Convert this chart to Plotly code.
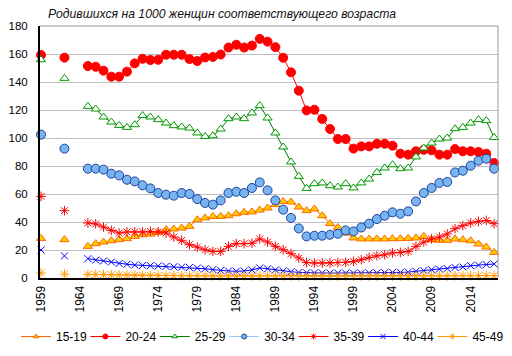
import plotly.graph_objects as go

years = [1959, 1962] + list(range(1965, 2018))

a15_19 = [28.3, 27.4,
          22.6, 24.5, 25.7, 26.6, 27.4, 28.1, 29.7, 30.9, 31.4, 32.6,
          34.5, 35.0, 35.7, 36.9, 41.6, 42.9, 44.0, 44.0, 44.5, 45.9,
          46.9, 47.2, 48.5, 50.0, 52.4, 54.7, 54.3, 50.7, 48.1, 49.3,
          44.5, 38.8, 36.1, 32.1, 28.6, 27.9, 27.9, 27.9, 27.9, 28.1,
          28.1, 28.3, 28.6, 29.7, 27.4, 26.9, 26.9, 27.9, 27.4, 26.6,
          24.3, 22.1, 18.3]
a20_24 = [159.3, 157.4,
          151.4, 150.9, 148.1, 143.8, 143.8, 147.4, 153.3, 156.6, 155.7, 155.9,
          159.5, 159.5, 159.5, 156.4, 155.0, 157.5, 157.9, 159.6, 164.6, 166.6,
          164.6, 166.0, 170.8, 168.8, 164.9, 157.3, 146.9, 133.8, 119.7, 120.2,
          113.6, 106.4, 99.3, 99.3, 92.4, 94.0, 94.0, 95.9, 95.9, 94.5,
          88.8, 88.1, 90.5, 91.6, 91.2, 88.1, 88.1, 92.1, 90.5, 90.5,
          90.0, 88.8, 82.1]
a25_29 = [155.9, 142.6,
          122.6, 120.7, 115.0, 111.4, 109.0, 107.6, 109.5, 116.1, 115.0, 113.1,
          110.7, 108.8, 107.9, 107.1, 103.6, 101.1, 101.6, 106.4, 113.8, 115.0,
          113.8, 117.9, 123.1, 114.3, 103.6, 93.6, 82.9, 72.6, 64.0, 67.4,
          67.9, 65.9, 65.0, 67.4, 64.3, 67.9, 70.7, 75.4, 78.6, 80.9,
          78.1, 78.6, 86.5, 92.9, 96.4, 99.3, 100.0, 106.6, 107.6, 110.7,
          113.1, 112.4, 100.4]
a30_34 = [102.4, 92.4,
          78.1, 78.1, 77.4, 74.5, 73.3, 70.2, 69.0, 66.2, 64.0, 60.7,
          59.5, 58.8, 60.7, 60.0, 56.4, 53.6, 52.4, 55.4, 60.7, 61.6,
          60.7, 64.3, 68.3, 62.6, 55.4, 48.8, 42.9, 35.4, 29.7, 30.2,
          30.2, 30.9, 31.6, 34.0, 33.3, 36.1, 38.8, 42.1, 44.5, 46.9,
          45.9, 47.6, 54.7, 60.7, 64.3, 67.9, 68.6, 75.4, 76.6, 80.2,
          83.8, 85.2, 78.1]
a35_39 = [58.3, 48.1,
          39.3, 38.6, 36.4, 34.0, 32.1, 32.9, 32.9, 32.9, 33.3, 32.9,
          32.1, 29.3, 26.9, 23.8, 22.1, 20.2, 19.0, 19.0, 22.6, 24.5,
          24.5, 24.8, 27.9, 25.7, 22.6, 20.2, 17.4, 14.3, 11.1, 10.7,
          10.7, 10.7, 11.1, 11.2, 11.9, 13.1, 14.7, 15.9, 16.6, 17.9,
          18.3, 19.0, 22.6, 25.7, 27.9, 29.3, 31.4, 35.2, 37.4, 39.3,
          40.4, 41.1, 38.8]
a40_44 = [20.0, 15.8,
          13.8, 12.8, 12.2, 11.4, 10.4, 9.8, 9.3, 9.0, 8.8, 8.6,
          8.3, 8.0, 7.8, 7.5, 7.1, 6.6, 6.0, 5.4, 5.0, 4.8,
          5.0, 5.8, 7.2, 6.6, 5.8, 5.0, 4.5, 4.0, 3.7, 3.6,
          3.6, 3.5, 3.5, 3.5, 3.5, 3.5, 3.6, 3.7, 3.8, 4.0,
          4.0, 4.2, 4.8, 5.3, 5.9, 6.4, 6.7, 7.5, 7.9, 8.8,
          9.2, 9.6, 10.0]
a45_49 = [3.6, 2.8,
          2.6, 2.5, 2.4, 2.3, 2.2, 2.1, 2.0, 1.9, 1.8, 1.8,
          1.7, 1.7, 1.6, 1.6, 1.6, 1.5, 1.5, 1.5, 1.5, 1.5,
          1.5, 1.5, 1.5, 1.5, 1.5, 1.5, 1.5, 1.4, 1.4, 1.4,
          1.4, 1.4, 1.4, 1.4, 1.4, 1.4, 1.4, 1.4, 1.4, 1.4,
          1.4, 1.4, 1.5, 1.5, 1.5, 1.5, 1.5, 1.6, 1.6, 1.6,
          1.7, 1.7, 1.7]

series_names = ["15-19", "20-24", "25-29", "30-34", "35-39", "40-44", "45-49"]
tick_years = [1959, 1964, 1969, 1974, 1979, 1984, 1989, 1994, 1999, 2004, 2009, 2014]
title_text = "Родившихся на 1000 женщин соответствующего возраста"

styles = {
    "15-19": dict(line="#FF6600", symbol="triangle-up", size=8, fill="#FFCC00", edge="#FF6600", lw=1),
    "20-24": dict(line="#FF0000", symbol="circle", size=9, fill="#FF0000", edge="#FF0000", lw=1),
    "25-29": dict(line="#008000", symbol="triangle-up", size=8, fill="#FFFFFF", edge="#009900", lw=1),
    "30-34": dict(line="#99CCFF", symbol="circle", size=9, fill="#77B5F0", edge="#1F3F9F", lw=1),
    "35-39": dict(line="#FF0000", symbol="asterisk-open", size=8, fill="#FF0000", edge="#FF0000", lw=1),
    "40-44": dict(line="#0000FF", symbol="x-thin-open", size=7, fill="#0000FF", edge="#0000FF", lw=1),
    "45-49": dict(line="#FF9900", symbol="asterisk-open", size=8, fill="#FF9900", edge="#FF9900", lw=1),
}


def with_gaps(xs, ys):
    gx, gy = [], []
    for i, (x, y) in enumerate(zip(xs, ys)):
        if i > 0 and x - xs[i - 1] > 1:
            gx.append(x - 1)
            gy.append(None)
        gx.append(x)
        gy.append(y)
    return gx, gy


fig = go.Figure()
data = [a15_19, a20_24, a25_29, a30_34, a35_39, a40_44, a45_49]
for name, vals in zip(series_names, data):
    s = styles[name]
    gx, gy = with_gaps(years, vals)
    fig.add_trace(go.Scatter(
        x=gx, y=gy, mode="lines+markers", name=name, showlegend=False,
        connectgaps=False, cliponaxis=False,
        line=dict(color=s["line"], width=1),
        marker=dict(symbol=s["symbol"], size=s["size"], color=s["fill"],
                    line=dict(color=s["edge"], width=s["lw"])),
    ))

# page body has an 8px margin: the figure is 504x348 placed at (8, 8)
W, H = 504, 348
legend_layouts = {}
for i, name in enumerate(series_names):
    s = styles[name]
    key = "legend" if i == 0 else f"legend{i + 1}"
    fig.add_trace(go.Scatter(
        x=[None], y=[None], mode="lines+markers", name=name, showlegend=True,
        legend=key,
        line=dict(color=s["line"], width=1),
        marker=dict(symbol=s["symbol"], size=5, color=s["fill"],
                    line=dict(color=s["edge"], width=1)),
    ))
    legend_layouts[key] = dict(
        orientation="h", xref="container", yref="container",
        x=(8 + i * 69.4) / W, y=1 - 314 / H, xanchor="left", yanchor="top",
        itemwidth=30, font=dict(size=12), bgcolor="rgba(0,0,0,0)",
    )

fig.update_layout(
    width=W, height=H,
    margin=dict(l=32, r=14, t=18, b=78, autoexpand=False),
    paper_bgcolor="white", plot_bgcolor="white",
    font=dict(family="Liberation Sans, Arial, sans-serif", size=11, color="black"),
    title=dict(text=title_text, x=40 / W, xref="container", xanchor="left",
               y=1 - 6 / H, yref="container", yanchor="middle",
               font=dict(size=12.2, style="italic", color="#111111",
                         family="Liberation Sans, Arial, sans-serif")),
    showlegend=True,
    xaxis=dict(range=[1958.87, 2017.5], tickmode="array", tickvals=tick_years,
               ticktext=[str(t) for t in tick_years], tickangle=-90,
               showgrid=False, zeroline=False, showline=True, linecolor="black",
               linewidth=2, ticks="", tickfont=dict(size=12),
               ticklabelstandoff=1, automargin=False),
    yaxis=dict(range=[0, 180], dtick=20, showgrid=True, gridcolor="#BFBFBF",
               gridwidth=1, zeroline=False, showline=True, linecolor="black",
               linewidth=2, ticks="", tickfont=dict(size=11.5),
               ticklabelstandoff=8, automargin=False),
    shapes=[
        dict(type="line", xref="paper", yref="paper", x0=1, x1=1, y0=0, y1=1,
             line=dict(color="#999999", width=1)),
        dict(type="line", xref="paper", yref="paper", x0=0, x1=1, y0=1, y1=1,
             line=dict(color="#999999", width=1)),
    ],
    **legend_layouts,
)

fig.write_html("out.html")
